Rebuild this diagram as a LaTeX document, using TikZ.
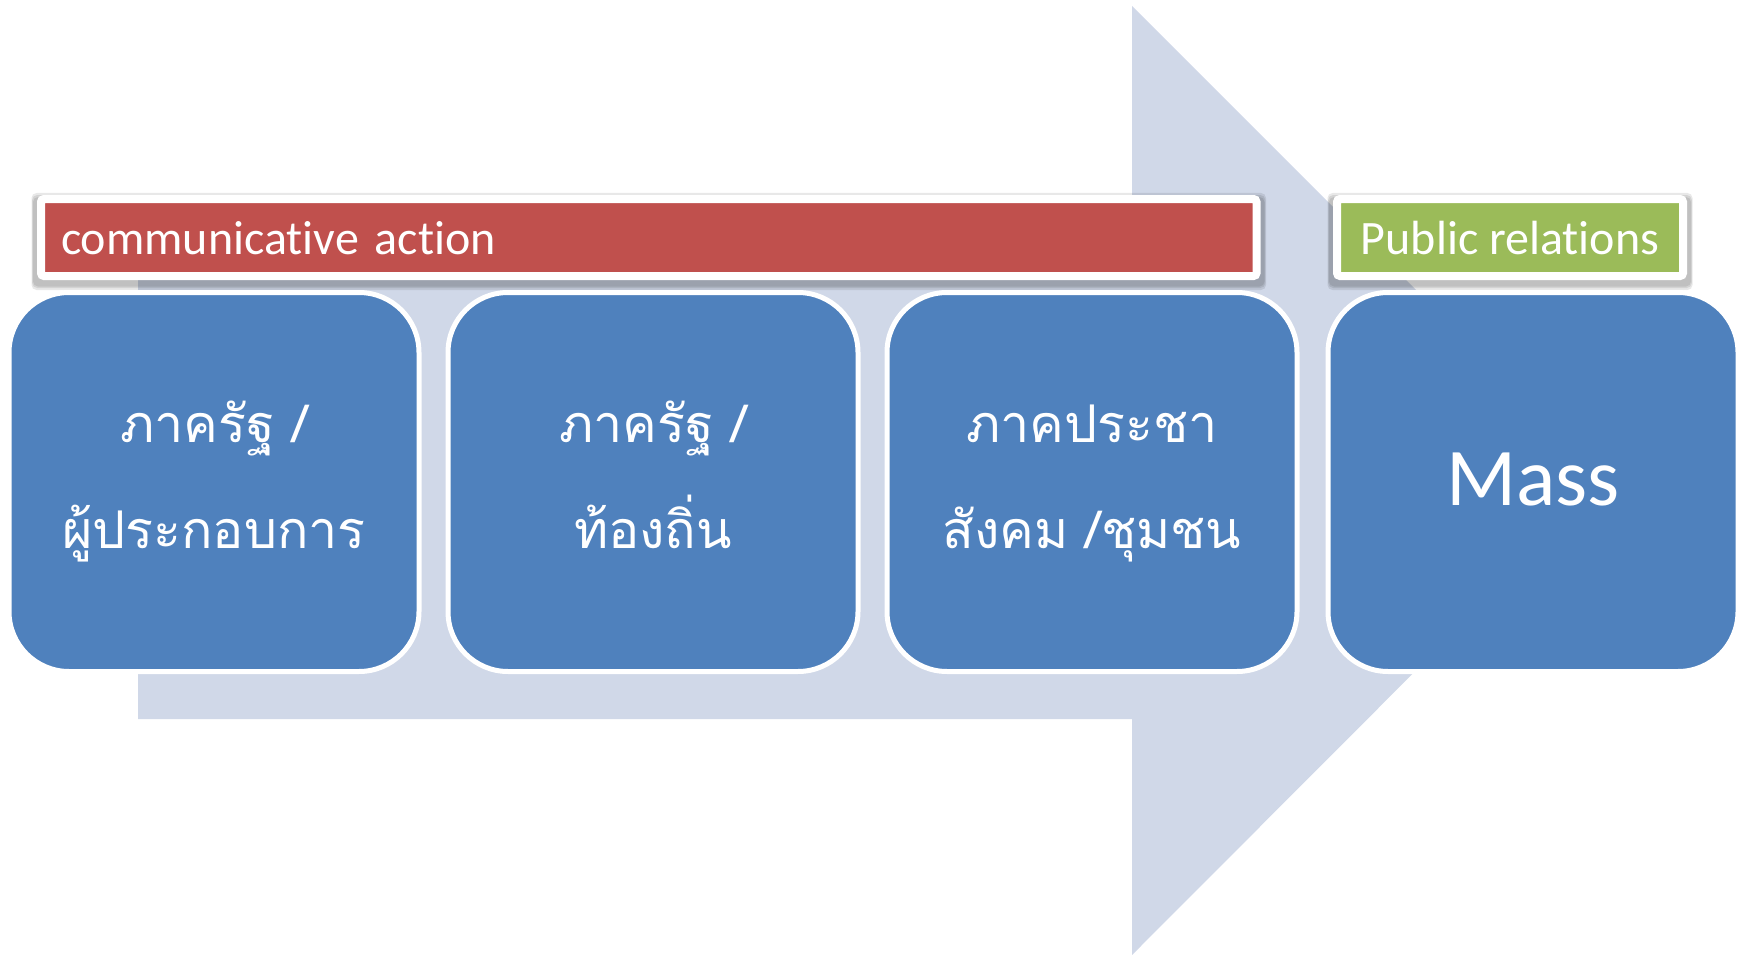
\documentclass[tikz,border=0pt]{standalone}
\usepackage{fontspec}
\setmainfont{Carlito}[Ligatures={NoCommon}]
\newfontfamily\thaifont[Script=Thai]{Loma}
\definecolor{arrowgray}{HTML}{D0D8E8}
\definecolor{boxblue}{HTML}{4F81BD}
\definecolor{barred}{HTML}{C0504D}
\definecolor{bargreen}{HTML}{9BBB59}
\tikzset{
  stagebox/.style={rounded corners=60pt, fill=boxblue, draw=white, line width=5pt,
    minimum width=410pt, minimum height=379pt, inner sep=0pt, text=white},
  thaitext/.style={stagebox, text width=400pt, align=center,
    font={\thaifont\fontsize{52}{106}\selectfont}, text height=40pt, text depth=120pt},
  titlebar/.style={draw=white, line width=8pt, rounded corners=3pt, minimum height=77pt,
    inner ysep=0pt, text=white, font={\fontsize{48}{58}\selectfont},
    text height=33pt, text depth=0pt},
  barshadow/.style={fill=black, opacity=0.09, rounded corners=5pt},
}
\newcommand{\barshade}[1]{%
  \fill[barshadow] ([shift={(-5.5,-2)}]#1.north west) rectangle ([shift={(5.5,10)}]#1.south east);
  \fill[barshadow] ([shift={(-4.8,0)}]#1.north west) rectangle ([shift={(4.8,8)}]#1.south east);
  \fill[barshadow] ([shift={(-4,2)}]#1.north west) rectangle ([shift={(4,6.5)}]#1.south east);
}
\begin{document}
\begin{tikzpicture}[x=1pt,y=-1pt]
\useasboundingbox (0,0) rectangle (1741,955);
% big background arrow
\fill[arrowgray] (138,241) -- (1132,241) -- (1132,6) -- (1606,480) -- (1132,955)
  -- (1132,719) -- (138,719) -- cycle;
% title bar positions (shadows drawn first)
\path (648.75,237.5) node[titlebar, draw=none, text width=1175.5pt, inner xsep=20pt] (ca0) {}
      (1510,237.5) node[titlebar, draw=none, minimum width=346pt, inner xsep=0pt] (pr0) {};
\barshade{ca0}
\barshade{pr0}
% title bars
\node[titlebar, fill=barred, text width=1175.5pt, inner xsep=20pt, align=left]
  (ca) at (648.75,237.5) {communicative action};
\node[titlebar, fill=bargreen, minimum width=346pt, inner xsep=0pt]
  (pr) at (1510,237.5) {Public relations};
% stage boxes
\node[thaitext] (s1) at (214,482) {ภาครัฐ /\\ผู้ประกอบการ};
\node[thaitext] (s2) at (653,482) {ภาครัฐ /\\ท้องถิ่น};
\node[thaitext] (s3) at (1092,482) {ภาคประชา\\สังคม /ชุมชน};
\node[stagebox, font={\fontsize{82}{98}\selectfont}, text height=47pt, text depth=0pt]
  (s4) at (1533,482) {Mass};
\end{tikzpicture}
\end{document}
